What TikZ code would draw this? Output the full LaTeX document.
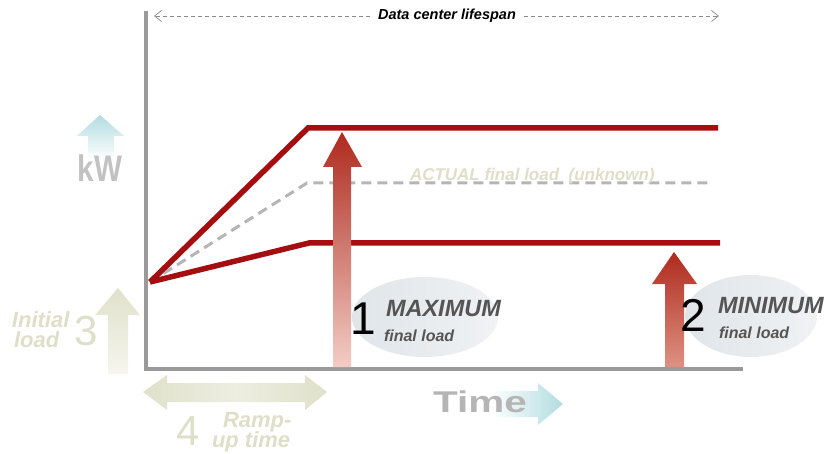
\documentclass[tikz,border=0pt]{standalone}
\usepackage{fontspec}
\setmainfont{Liberation Sans}
\usetikzlibrary{arrows.meta}
\definecolor{redline}{HTML}{A50E10}
\definecolor{axisgray}{HTML}{9A9A9A}
\definecolor{dashgray}{HTML}{B5B5B5}
\definecolor{faint}{HTML}{DEDFC8}
\definecolor{faintarrow}{HTML}{DFE1CB}
\definecolor{faintlight}{HTML}{F6F6EE}
\definecolor{skyblue}{HTML}{B2DCE1}
\definecolor{ellA}{HTML}{E0E5E9}
\definecolor{ellB}{HTML}{F0F2F4}
\definecolor{darkarrow}{HTML}{AE2A1E}
\definecolor{pinkA}{HTML}{F2CDC5}
\definecolor{pinkB}{HTML}{DE9282}
\definecolor{textdark}{HTML}{555555}
\definecolor{kwgray}{HTML}{C2C2C2}
\definecolor{timegray}{HTML}{B5B5B5}
\definecolor{lifegray}{HTML}{8A8A8A}
\newcommand\myfs[1]{\fontsize{#1}{#1}\selectfont}
\begin{document}
\begin{tikzpicture}[x=1pt,y=-1pt,
  loadline/.style={redline,line width=5.5pt,line join=miter},
  txt/.style={inner sep=0pt,outer sep=0pt},
  bigdigit/.style={txt,anchor=base west,font=\myfs{46}},
  fainttxt/.style={txt,anchor=base west,text=faint,font=\myfs{22}\bfseries\itshape},
  labtxt/.style={txt,anchor=base west,text=textdark,font=\myfs{23.5}\bfseries\itshape},
  subtxt/.style={txt,anchor=base west,text=textdark,font=\myfs{16}\bfseries\itshape},
  ell/.style={left color=ellA,right color=ellB}]
\useasboundingbox (0,0) rectangle (832,454);

% ellipses
\shade[ell] (425,317) ellipse [x radius=73, y radius=40];
\shade[ell] (751,316) ellipse [x radius=66, y radius=41];

% faint background arrows
\shade[top color=skyblue,bottom color=white] (88,160)--(88,136)--(77,136)--(100,115)--(124,136)--(114,136)--(114,160)--cycle;
\shade[top color=faintarrow,bottom color=faintlight] (108,374)--(108,315)--(95,315)--(118,288)--(140,315)--(128,315)--(128,374)--cycle;
\shade[left color=faintarrow,right color=faintarrow,middle color=faintlight!60!faintarrow]
  (143,392)--(167,375)--(167,383)--(305,383)--(305,375)--(327,392)--(305,410)--(305,402)--(167,402)--(167,410)--cycle;
\shade[left color=white,right color=skyblue] (490,391)--(538,391)--(538,383)--(563,404)--(538,425)--(538,417)--(490,417)--cycle;

% axes
\coordinate (ytop) at (146,11);
\coordinate (origin) at (146,369);
\coordinate (xend) at (743,369);
\draw[axisgray,line width=4.5pt] (ytop) -- (origin) -- (xend);

% load lines
\coordinate (start) at (150,282);
\coordinate (maxc) at (308,128);
\coordinate (maxe) at (718,128);
\coordinate (actc) at (307,183);
\coordinate (acte) at (712,183);
\coordinate (minc) at (309,243);
\coordinate (mine) at (720,243);
\draw[dashgray,line width=3pt,dash pattern=on 10pt off 6pt] (start) -- (actc) -- (acte);
\draw[loadline] (start) -- (maxc) -- (maxe);
\draw[loadline] (start) -- (minc) -- (mine);

% red arrows
\shade[top color=darkarrow,bottom color=pinkA] (333,367)--(333,167)--(323,167)--(342,132)--(362,167)--(351,167)--(351,367)--cycle;
\shade[top color=darkarrow,bottom color=pinkB] (665,367)--(665,284)--(652,284)--(674,252)--(697,284)--(684,284)--(684,367)--cycle;

% lifespan
\node[txt,font=\myfs{14.5}\bfseries\itshape] (life) at (447,16) {Data center lifespan};
\coordinate (lifeL) at (154,16);
\coordinate (lifeR) at (719,16);
\draw[lifegray,line width=0.7pt,dash pattern=on 4pt off 3pt,-{Straight Barb[length=7pt,width=11pt,line width=0.7pt]}] ([xshift=-8pt]life.west) -- (lifeL);
\draw[lifegray,line width=0.7pt,dash pattern=on 4pt off 3pt,-{Straight Barb[length=7pt,width=11pt,line width=0.7pt]}] ([xshift=8pt]life.east) -- (lifeR);

% texts
\node[txt,anchor=base west,text=faint,font=\myfs{17}\bfseries\itshape] (actual) at (410,181) {ACTUAL final load\ \ (unknown)};

\node[bigdigit] (one) at (350,334) {1};
\node[labtxt] (maxlab) at (386,316) {MAXIMUM};
\node[subtxt] (maxsub) at (384,341) {final load};

\node[bigdigit] (two) at (680,331) {2};
\node[labtxt] (minlab) at (718,313) {MINIMUM};
\node[subtxt] (minsub) at (719,338) {final load};

\node[txt,text=kwgray,font=\myfs{37}\bfseries] (kw) at (100,168) {\scalebox{0.8}[1]{kW}};

\node[fainttxt] (initial) at (12,327) {Initial};
\node[fainttxt] (load) at (14,347) {load};
\node[bigdigit,text=faint,font=\myfs{42}] (three) at (74,345) {3};

\node[bigdigit,text=faint,font=\myfs{42}] (four) at (176,445) {4};
\node[fainttxt] (ramp) at (223,427) {Ramp-};
\node[fainttxt] (up) at (212,447) {up time};

\node[txt,anchor=base west,text=timegray,font=\myfs{30}\bfseries] (time) at (433,412) {\scalebox{1.35}[1]{Time}};
\end{tikzpicture}
\end{document}
